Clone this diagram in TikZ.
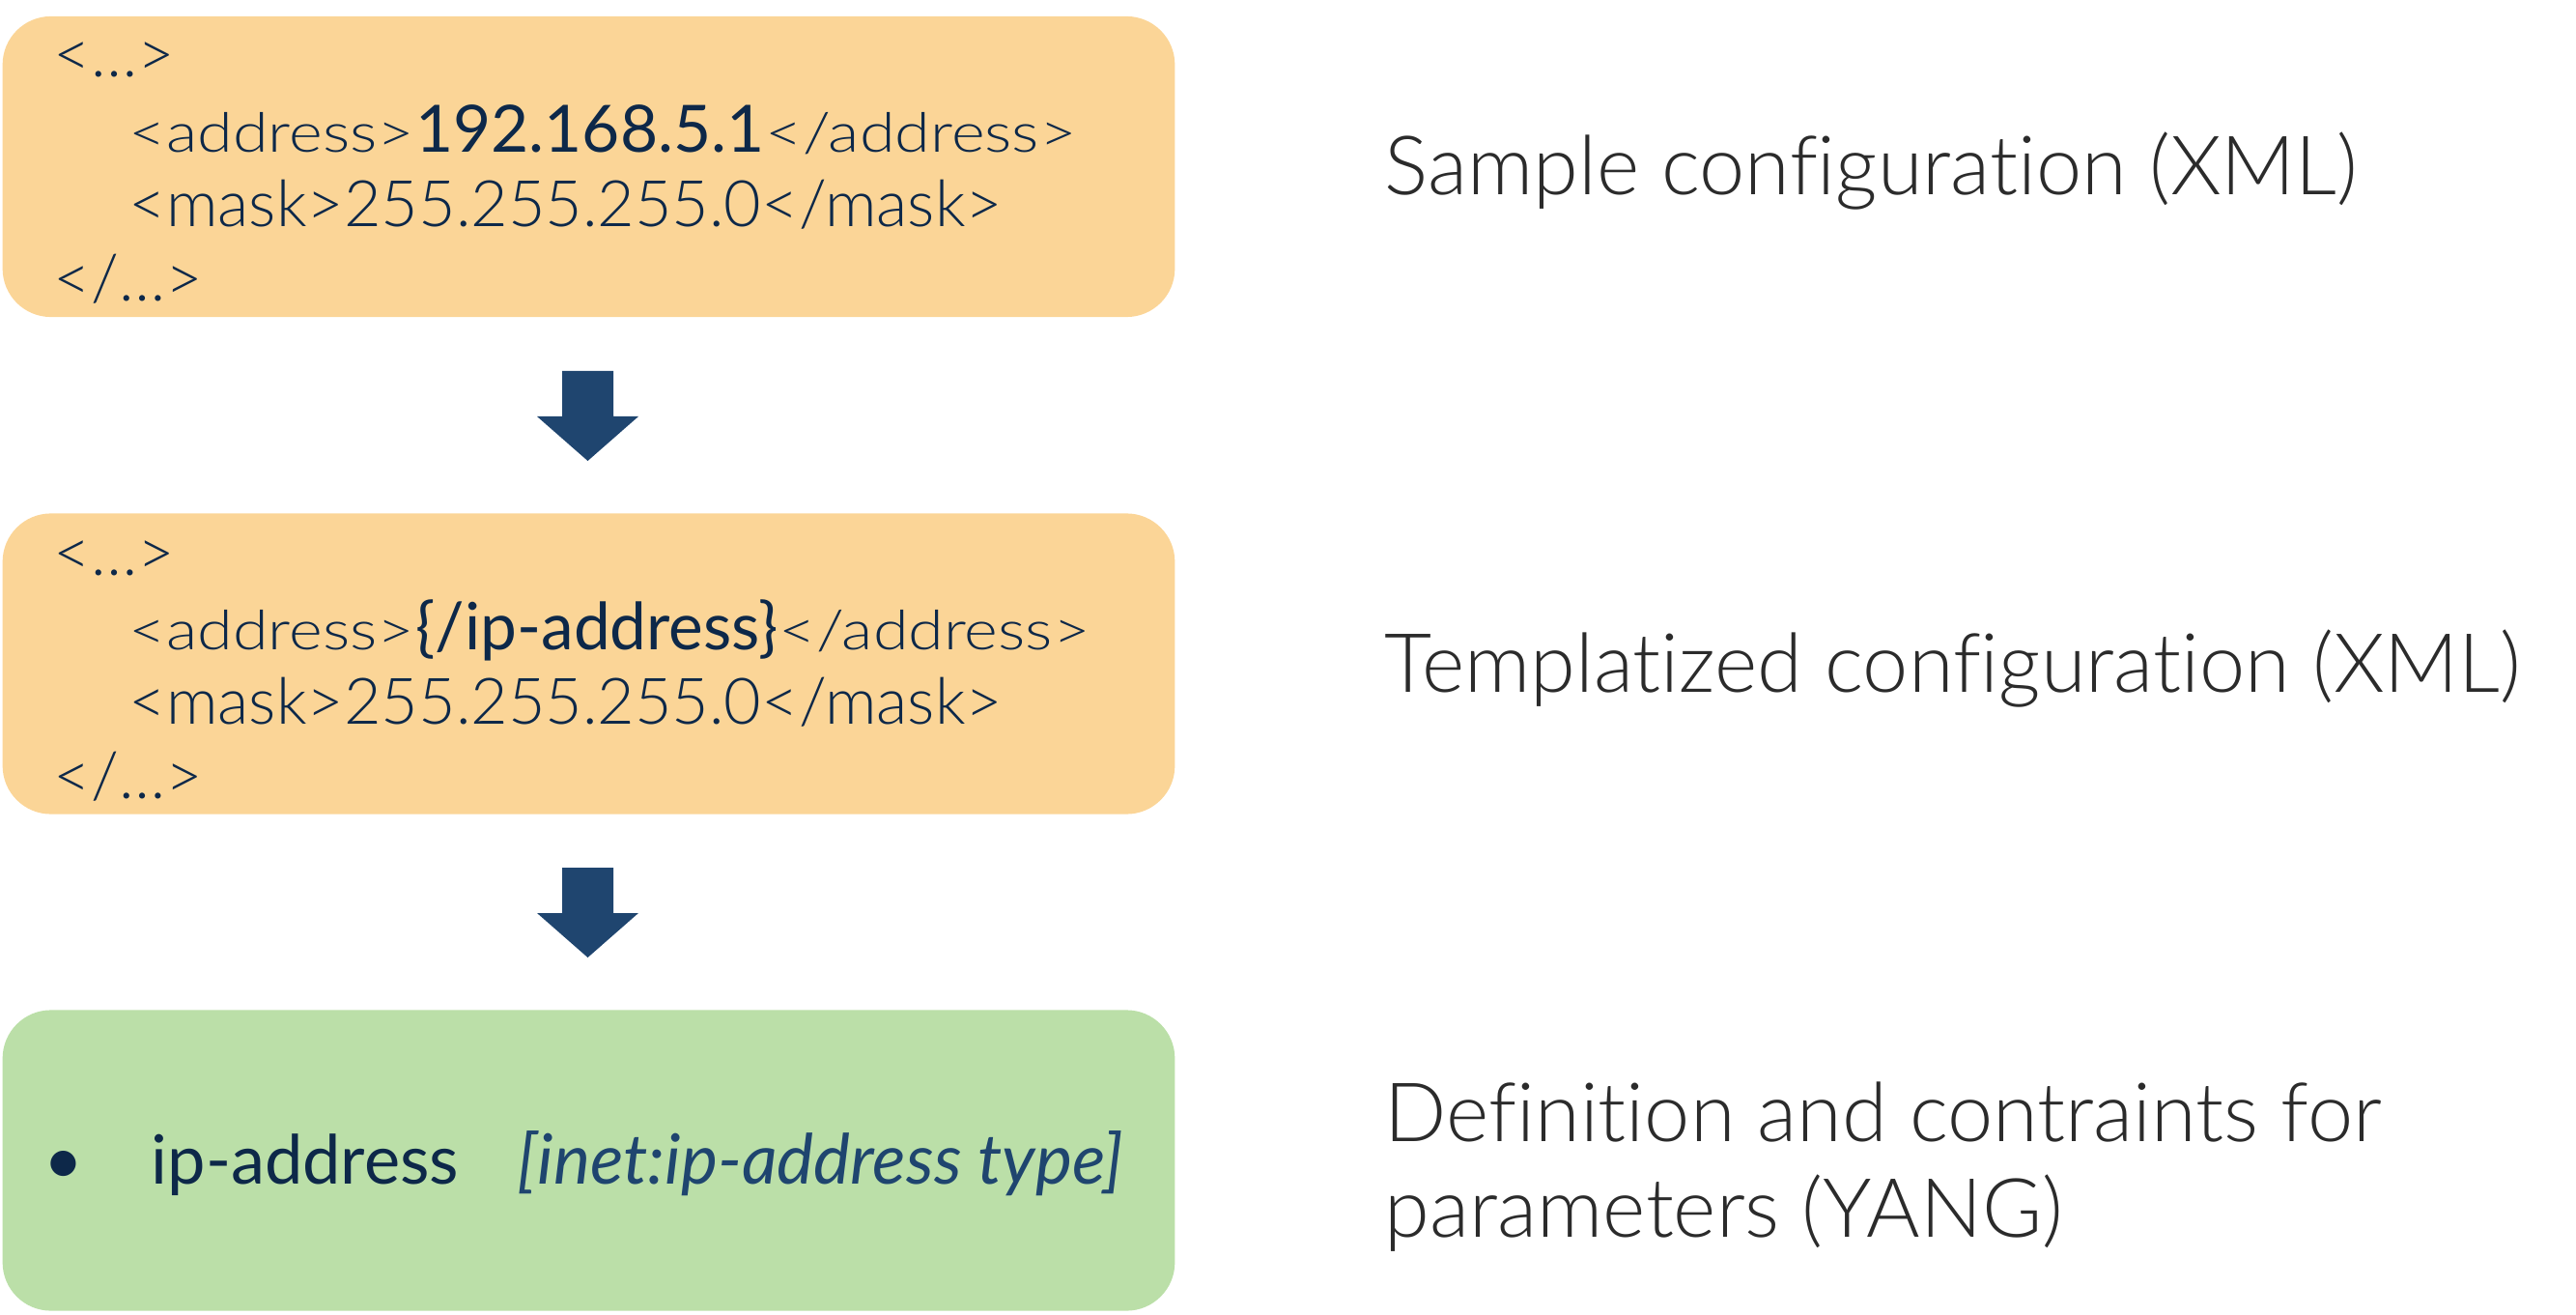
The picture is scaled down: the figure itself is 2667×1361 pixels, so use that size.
\documentclass[tikz,border=0pt]{standalone}
\usepackage{fontspec}
\usepackage{graphicx}
\setmainfont{Lato}[Ligatures=NoCommon]
\newfontfamily\lightfont{Lato Light}[Ligatures=NoCommon]
\usetikzlibrary{calc}
\definecolor{boxorange}{HTML}{FBD597}
\definecolor{boxgreen}{HTML}{BBDFA8}
\definecolor{navy}{HTML}{0D2849}
\definecolor{typeblue}{HTML}{1F456F}
\definecolor{arrowblue}{HTML}{1F456F}
\definecolor{labelgray}{HTML}{2B2B2B}
\tikzset{
  panel/.style={rounded corners=0.5cm, inner sep=0pt, minimum width=12.13cm, minimum height=3.11cm},
  xml/.style={anchor=base west, inner sep=0pt, text=navy, font=\lightfont\fontsize{18.9}{22}\selectfont},
  xmlval/.style={anchor=base west, inner sep=0pt, text=navy, font=\fontsize{19.2}{22}\selectfont},
  label/.style={anchor=base west, inner sep=0pt, text=labelgray, font=\lightfont\fontsize{24.1}{28}\selectfont},
}
\newcommand\tagtext[1]{\scalebox{1}[0.85]{#1}}
\newcommand\blockarrow[1]{\fill[arrowblue] ($(#1)+(-26.5,0)$) -- ++(53,0) -- ++(0,47) -- ++(26,0) -- ++(-52.5,46) -- ++(-52.5,-46) -- ++(26,0) -- cycle;}
\begin{document}
\begin{tikzpicture}[x=0.01cm,y=-0.01cm]
\useasboundingbox (0,0) rectangle (2667,1361);
% panels
\node[panel, fill=boxorange] (b1) at (609.5,172.5) {};
\node[panel, fill=boxorange] (b2) at (609.5,687) {};
\node[panel, fill=boxgreen] (b3) at (609.5,1201) {};
% box 1 text
\node[xml] (b1l1) at (55,80) {<…>};
\node[xml] (b1l2a) at (133,158) {\tagtext{<address>}};
\node[xmlval] (b1l2b) at (b1l2a.base east) {192.168.5.1};
\node[xml] (b1l2c) at (b1l2b.base east) {\tagtext{</address>}};
\node[xml] (b1l3) at (133,235) {<mask>255.255.255.0</mask>};
\node[xml] (b1l4) at (55,312) {</…>};
% box 2 text
\node[xml] (b2l1) at (55,595) {<…>};
\node[xml] (b2l2a) at (133,672) {\tagtext{<address>}};
\node[xmlval] (b2l2b) at (b2l2a.base east) {\{/ip-address\}};
\node[xml] (b2l2c) at (b2l2b.base east) {\tagtext{</address>}};
\node[xml] (b2l3) at (133,749) {<mask>255.255.255.0</mask>};
\node[xml] (b2l4) at (55,826) {</…>};
% box 3 text
\node[xmlval, font=\fontsize{20}{24}\selectfont] (b3bul) at (45,1225) {•};
\node[xmlval, font=\fontsize{20}{24}\selectfont] (b3name) at (156,1225) {ip-address};
\node[xmlval, text=typeblue, font=\fontsize{20.4}{24}\selectfont\itshape] (b3type) at (535,1225) {[inet:ip-address type]};
% arrows
\coordinate (a1) at (608.5,384);
\coordinate (a2) at (608.5,898);
\blockarrow{a1}
\blockarrow{a2}
% labels
\node[label] (lab1) at (1433,202) {Sample configuration (XML)};
\node[label] (lab2) at (1433,716) {Templatized configuration (XML)};
\node[label] (lab3) at (1433,1181) {Definition and contraints for};
\node[label] (lab4) at (1433,1280) {parameters (YANG)};
\end{tikzpicture}
\end{document}
